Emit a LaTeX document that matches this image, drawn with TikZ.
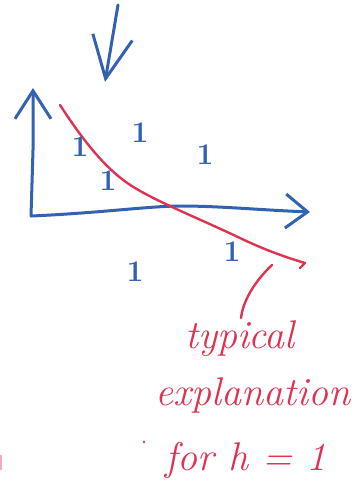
\documentclass[tikz,border=0pt]{standalone}
\usetikzlibrary{arrows.meta}
\definecolor{pen}{RGB}{52,98,178}
\definecolor{ink}{RGB}{222,52,82}
\tikzset{
  blueline/.style={draw=pen, line width=3pt, line cap=round, line join=round},
  redline/.style={draw=ink, line width=2.4pt, line cap=round, line join=round},
  onelabel/.style={text=pen, font=\fontsize{30}{30}\selectfont\bfseries},
  redtext/.style={text=ink, font=\fontsize{40}{40}\selectfont\itshape, anchor=base},
}
\begin{document}
\begin{tikzpicture}[x=1pt,y=-1pt]
\useasboundingbox (0,0) rectangle (362,483);
% coordinates
\coordinate (dtop) at (118,5);
\coordinate (dtip) at (105,82);
\coordinate (origin) at (31,216);
\coordinate (ytip) at (33,88);
\coordinate (xtip) at (310,212);
% down arrow
\draw[blueline, -{Straight Barb[length=42pt,width=40pt,line width=3pt]}] (dtop) -- (dtip);
% axes
\draw[blueline, -{Straight Barb[length=28pt,width=36pt,line width=3pt]}] (origin) -- (33,150) -- (ytip);
\draw[blueline, -{Straight Barb[length=22pt,width=34pt,line width=3pt]}] (origin) .. controls (100,213) and (150,206) .. (180,206) .. controls (220,206) and (260,210) .. (xtip);
% red separating line
\coordinate (rs) at (60,105);
\coordinate (rm) at (135,188);
\coordinate (rn) at (240,238);
\coordinate (re) at (305,263);
\draw[redline] (rs) .. controls (88,148) and (110,173) .. (rm) .. controls (160,203) and (200,219) .. (rn) .. controls (265,250) and (285,257) .. (re) -- (300,268);
% callout
\coordinate (cs) at (272,265);
\coordinate (ce) at (241,318);
\draw[redline] (cs) .. controls (256,280) and (243,300) .. (ce);
% labels
\node[onelabel] (l1) at (80,147) {1};
\node[onelabel] (l2) at (140,133) {1};
\node[onelabel] (l3) at (205,155) {1};
\node[onelabel] (l4) at (108,181) {1};
\node[onelabel] (l5) at (232,252) {1};
\node[onelabel] (l6) at (135,272) {1};
% text
\node[redtext] (t1) at (240,348) {typical};
\node[redtext] (t2) at (253,405) {explanation};
\node[redtext] (t3) at (246,470) {for h = 1};
\fill[ink] (144,442) circle (1.3pt);
\draw[ink, line width=1.5pt, opacity=0.4] (1,455) -- (1,470);
\end{tikzpicture}
\end{document}
